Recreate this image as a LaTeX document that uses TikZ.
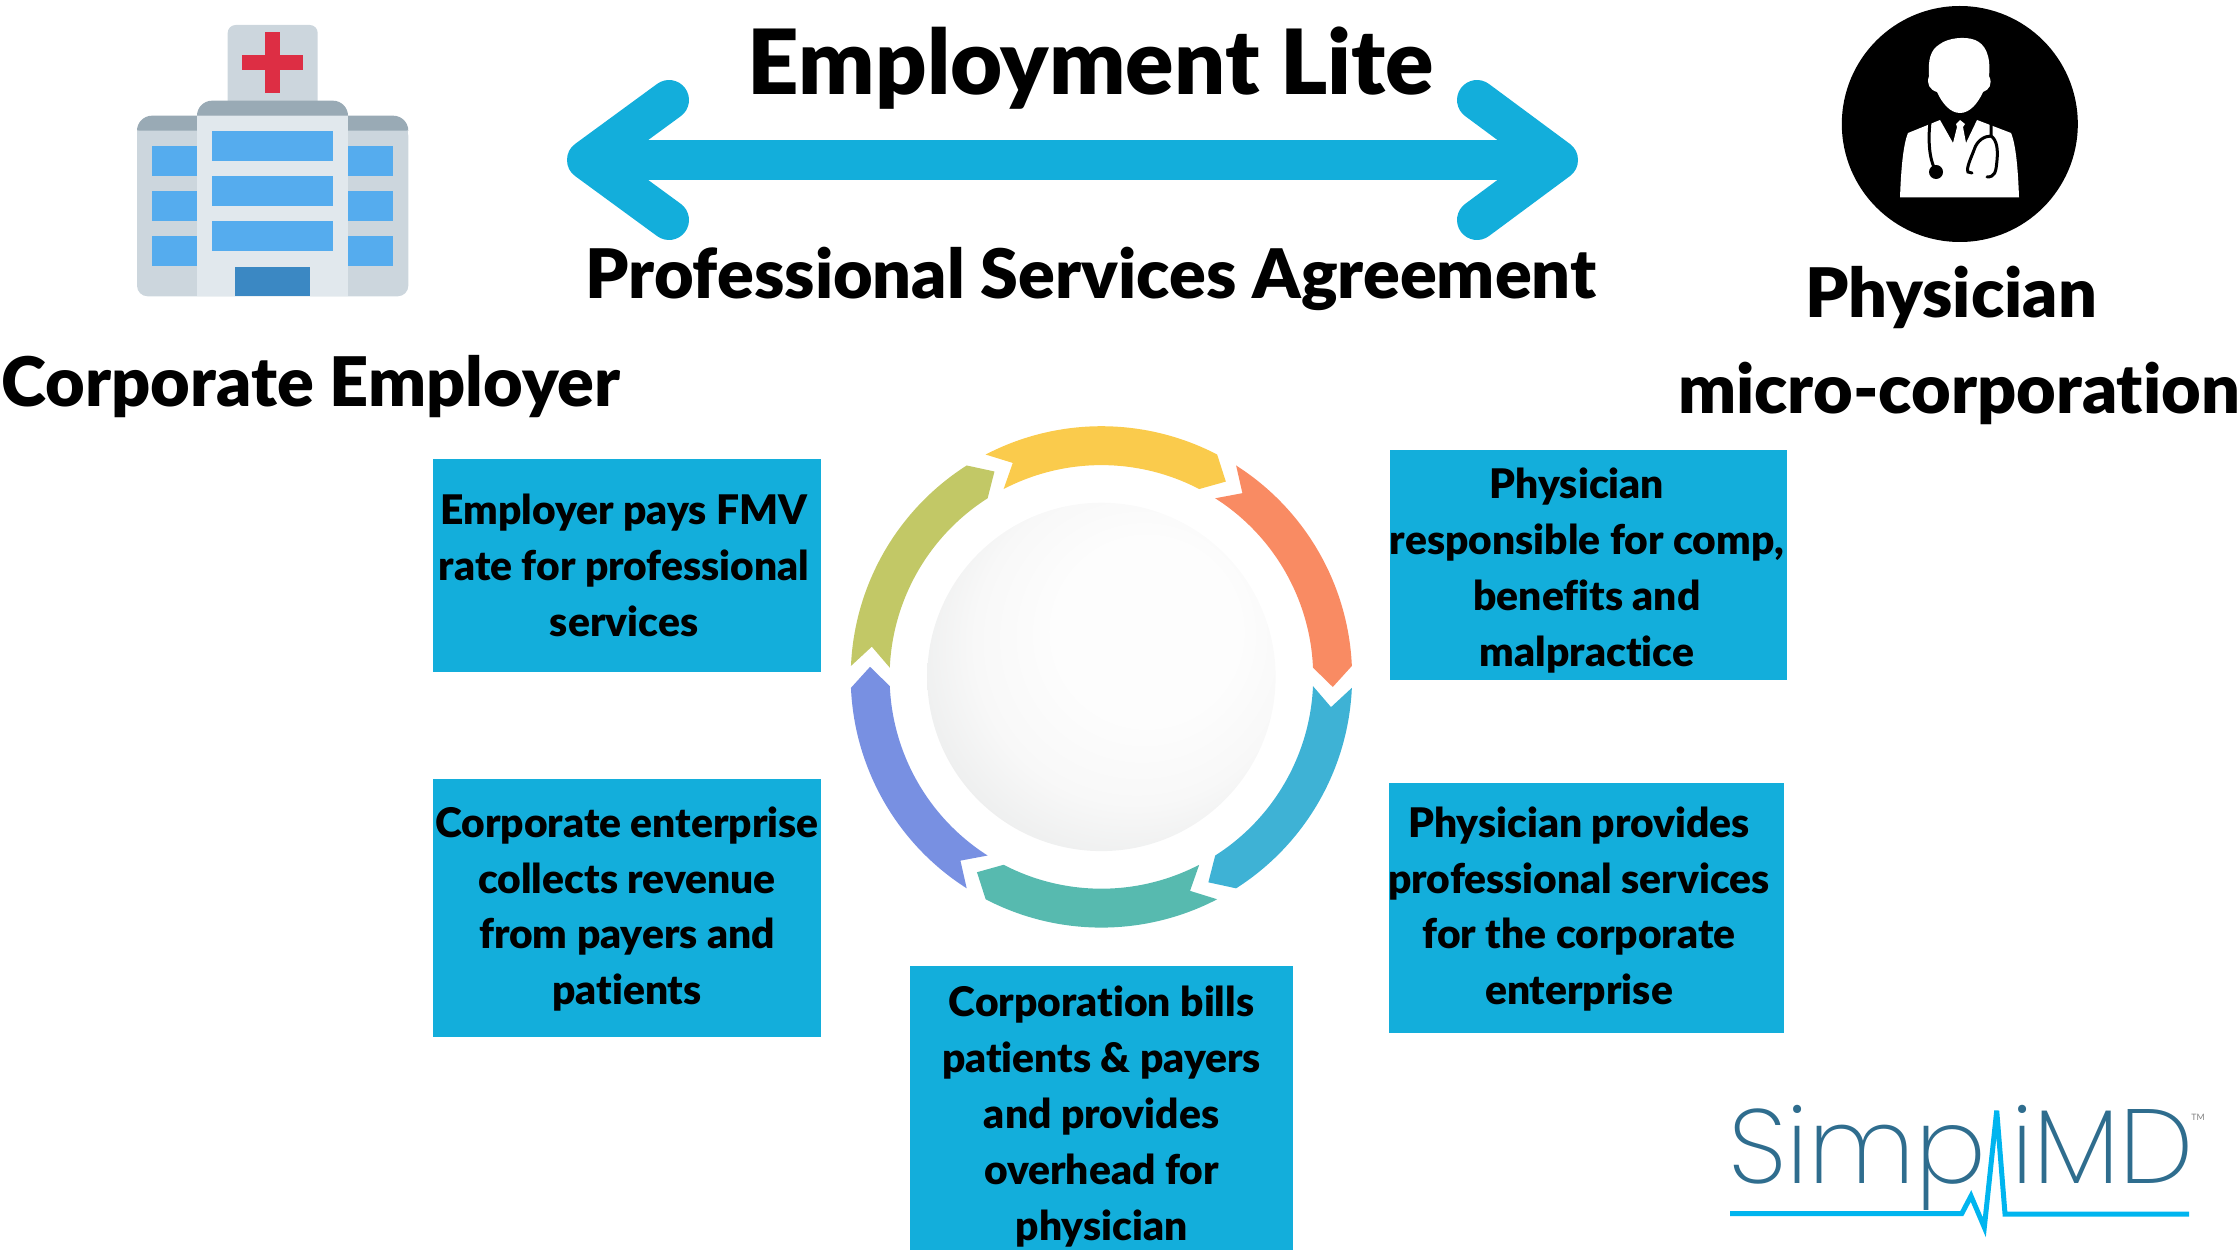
\documentclass[tikz,border=0pt]{standalone}
\usepackage{fontspec}
\setmainfont{Lato}[BoldFont=* Black, Ligatures=NoCommon]
\newfontfamily\logofont{Poppins}[UprightFont=* ExtraLight]

\definecolor{boxblue}{HTML}{13AEDB}
\definecolor{ringyellow}{HTML}{FACB4C}
\definecolor{ringorange}{HTML}{F98B63}
\definecolor{ringblue}{HTML}{3EB2D5}
\definecolor{ringteal}{HTML}{57BAAF}
\definecolor{ringpurple}{HTML}{7890E2}
\definecolor{ringolive}{HTML}{C2C866}
\definecolor{wallgray}{HTML}{CCD6DD}
\definecolor{walllight}{HTML}{E1E8ED}
\definecolor{roofgray}{HTML}{99AAB5}
\definecolor{windowblue}{HTML}{55ACEE}
\definecolor{doorblue}{HTML}{3B88C3}
\definecolor{crossred}{HTML}{DD2E44}
\definecolor{logoblue}{HTML}{2F6D8E}
\definecolor{logoline}{HTML}{00B5EF}
\definecolor{ballone}{HTML}{FDFDFD}
\definecolor{balltwo}{HTML}{F8F8F8}
\definecolor{ballthree}{HTML}{EDEEEE}
\definecolor{ballfour}{HTML}{E1E3E4}

\pgfdeclareradialshading{ballshade}{\pgfpoint{9bp}{9bp}}{color(0bp)=(ballone); color(13bp)=(ballone); color(23bp)=(balltwo); color(31bp)=(ballthree); color(36bp)=(ballfour); color(50bp)=(ballfour)}

\tikzset{
    infobox/.style={fill=boxblue, inner sep=0pt},
    boxtext/.style={inner sep=0pt, align=center, font=\fontsize{23.2}{31.75}\selectfont\bfseries},
    bigtitle/.style={anchor=base, inner sep=0pt, font=\fontsize{38.9}{46}\selectfont\bfseries},
    deal/.style={draw=boxblue, line width=0.8cm, line cap=round, line join=round},
    ecg/.style={draw=logoline, line width=0.1cm, line join=miter},
    logotext/.style={anchor=base west, inner sep=0pt, text=logoblue, font=\logofont\fontsize{60}{60}\selectfont}
}

\begin{document}
\begin{tikzpicture}[x=0.02cm, y=-0.02cm]
    \useasboundingbox (0,0) rectangle (2240,1260);

    % titles
    \node[bigtitle, font=\fontsize{51.2}{60}\selectfont\bfseries] (lite) at (1091,95) {Employment Lite};
    \node[bigtitle] (psa) at (1091,299) {Professional Services Agreement};
    \node[bigtitle] (employer) at (311,406) {Corporate Employer};
    \node[bigtitle] (physician) at (1951,317) {Physician};
    \node[bigtitle] (micro) at (1959,413) {micro-corporation};

    % double arrow
    \coordinate (leftup) at (669,100);
    \coordinate (lefttip) at (587,160);
    \coordinate (leftdown) at (669,220);
    \coordinate (rightup) at (1477,100);
    \coordinate (righttip) at (1558,160);
    \coordinate (rightdown) at (1477,220);
    \draw[deal] (leftup) -- (lefttip) -- (leftdown);
    \draw[deal] (rightup) -- (righttip) -- (rightdown);
    \draw[deal, line cap=butt] (lefttip) -- (righttip);

    % hospital
    \fill[wallgray, rounded corners=4.5pt] (227.7,25) rectangle (317.7,110);
    \fill[crossred] (265,32.3) rectangle (280.3,93);
    \fill[crossred] (242.3,55) rectangle (303,70.3);
    \fill[wallgray, rounded corners=6pt] (137,125) rectangle (408.3,296.3);
    \fill[wallgray] (137,130.7) rectangle (408.3,200);
    \fill[roofgray] (137,130.7) arc (180:270:15) -- (393.3,115.7) arc (270:360:15) -- cycle;
    \fill[walllight] (197,115.7) rectangle (348,296.3);
    \fill[roofgray] (197,115.7) arc (180:270:15) -- (333,100.7) arc (270:360:15) -- cycle;
    \fill[windowblue] (152,145.7) rectangle (197,175.7);
    \fill[windowblue] (152,191) rectangle (197,221);
    \fill[windowblue] (152,236.3) rectangle (197,266.3);
    \fill[windowblue] (348,145.7) rectangle (393.3,175.7);
    \fill[windowblue] (348,191) rectangle (393.3,221);
    \fill[windowblue] (348,236.3) rectangle (393.3,266.3);
    \fill[windowblue] (212.3,130.7) rectangle (333,160.7);
    \fill[windowblue] (212.3,176) rectangle (333,206);
    \fill[windowblue] (212.3,221.3) rectangle (333,251.3);
    \fill[doorblue] (235,266.7) rectangle (310.3,296.3);

    % doctor
    \fill[black] (1959.8,124) circle (118);
    \fill[white] (1960,113) .. controls (1950,113) and (1942,103) .. (1937,92)
        .. controls (1930,90) and (1926,84) .. (1929,76) .. controls (1928,60) and (1930,50) .. (1940,44)
        .. controls (1948,38) and (1965,36) .. (1975,40) .. controls (1985,44) and (1991,55) .. (1989,76)
        .. controls (1993,84) and (1989,90) .. (1983,92) .. controls (1978,103) and (1970,113) .. (1960,113) -- cycle;
    \fill[white] (1900,197.5) .. controls (1901,170) and (1903,145) .. (1908,133) -- (1940,120)
        -- (1953,143) -- (1957,127) -- (1956,124) -- (1960,120) -- (1965,124) -- (1963,127) -- (1966,143)
        -- (1977,120) -- (2011,133) .. controls (2016,145) and (2018,170) .. (2019,197.5) -- cycle;
    \draw[black, line width=0.06cm] (1930,122) .. controls (1928,140) and (1929,160) .. (1936,171);
    \fill[black] (1936,172) circle (7);
    \draw[black, line width=0.06cm, line cap=round] (1991,122) -- (1991,136) .. controls (1985,136) and (1977,140) .. (1974,150)
        .. controls (1971,158) and (1966,168) .. (1968,172) -- (1972,173);
    \draw[black, line width=0.06cm, line cap=round] (1991,136) .. controls (1997,140) and (1998,150) .. (1997,160)
        .. controls (1996,172) and (1995,177) .. (1987,177);

    % ring
    \begin{scope}[shift={(1101.4,676.9)}, y=0.02cm]
        \shade[shading=ballshade] (0,0) circle (174.2);
        \fill[ringorange] (57.5:250.7) arc (57.5:2.5:250.7) -- (-2.5:231.6) -- (2.5:211.8) arc (2.5:57.5:211.8) -- (52.5:231.6) -- cycle;
        \fill[ringblue] (-2.5:250.7) arc (-2.5:-57.5:250.7) -- (-62.5:231.6) -- (-57.5:211.8) arc (-57.5:-2.5:211.8) -- (-7.5:231.6) -- cycle;
        \fill[ringteal] (-62.5:250.7) arc (-62.5:-117.5:250.7) -- (-122.5:231.6) -- (-117.5:211.8) arc (-117.5:-62.5:211.8) -- (-67.5:231.6) -- cycle;
        \fill[ringpurple] (-122.5:250.7) arc (-122.5:-177.5:250.7) -- (-182.5:231.6) -- (-177.5:211.8) arc (-177.5:-122.5:211.8) -- (-127.5:231.6) -- cycle;
        \fill[ringolive] (177.5:250.7) arc (177.5:122.5:250.7) -- (117.5:231.6) -- (122.5:211.8) arc (122.5:177.5:211.8) -- (172.5:231.6) -- cycle;
        \fill[ringyellow] (117.5:250.7) arc (117.5:62.5:250.7) -- (57.5:231.6) -- (62.5:211.8) arc (62.5:117.5:211.8) -- (112.5:231.6) -- cycle;
    \end{scope}

    % boxes
    \node[infobox, minimum width=7.78cm, minimum height=4.26cm] (pays) at (627,565.4) {};
    \node[infobox, minimum width=7.76cm, minimum height=5.16cm] (collects) at (627,908) {};
    \node[infobox, minimum width=7.66cm, minimum height=5.68cm] (bills) at (1101.5,1108) {};
    \node[infobox, minimum width=7.94cm, minimum height=4.6cm] (comp) at (1588.5,565) {};
    \node[infobox, minimum width=7.9cm, minimum height=5cm] (provides) at (1586.5,908) {};
    \node[boxtext] (paystext) at (624,565.4) {Employer pays FMV\\rate for professional\\services};
    \node[boxtext] (collectstext) at (627,909) {Corporate enterprise\\collects revenue\\from payers and\\patients};
    \node[boxtext] (billstext) at (1101.5,1116.5) {Corporation bills\\patients \& payers\\and provides\\overhead for\\physician};
    \node[boxtext] (comptext) at (1587,570.5) {Physician\hspace*{0.4cm}\\responsible for comp,\\benefits and\\malpractice};
    \node[boxtext] (providestext) at (1579,909) {Physician provides\\professional services\\for the corporate\\enterprise};

    % logo
    \node[logotext] (simp) at (1728,1183) {Simp};
    \node[logotext] (imd) at (2011,1183) {iMD};
    \node[anchor=center, inner sep=0pt, text=gray, font=\fontsize{5}{6}\selectfont] (tm) at (2198,1117) {TM};
    \coordinate (ecgstart) at (1730,1213.7);
    \coordinate (ecgend) at (2189,1214);
    \draw[ecg] (ecgstart) -- (1961.7,1213.7) -- (1971,1196) -- (1984.3,1227.3) -- (1996.7,1110.7) -- (2005,1214) -- (ecgend);
\end{tikzpicture}
\end{document}
